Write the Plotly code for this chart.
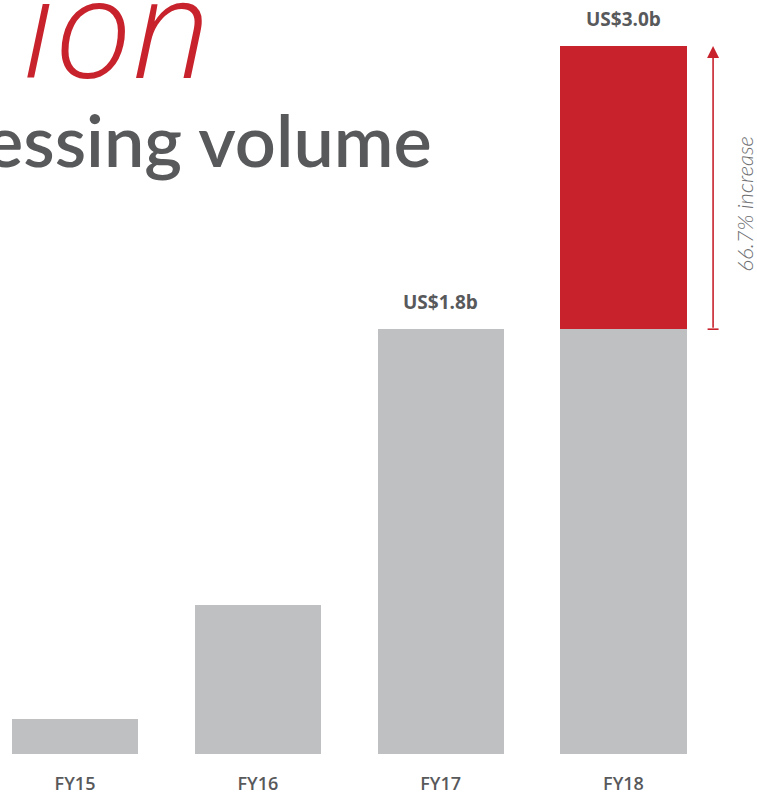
import plotly.graph_objects as go

categories = ["FY15", "FY16", "FY17", "FY18"]
base_values = [0.15, 0.63, 1.8, 1.8]       # US$ billions (grey part)
increase_values = [0, 0, 0, 1.2]           # FY18 growth over FY17 (red part)
value_labels = ["", "", "US$1.8b", "US$3.0b"]

GREY = "#bfc0c2"
RED = "#c8232d"
TEXT = "#58595b"

totals = [b + i for b, i in zip(base_values, increase_values)]
pct = (totals[3] - totals[2]) / totals[2] * 100

fig = go.Figure()
fig.add_trace(go.Bar(x=list(range(4)), y=base_values, marker_color=GREY,
                     marker_line_width=0, width=0.69, hoverinfo="skip"))
fig.add_trace(go.Bar(x=list(range(4)), y=increase_values, base=base_values,
                     marker_color=RED, marker_line_width=0, width=0.69, hoverinfo="skip"))

for i, lab in enumerate(value_labels):
    if lab:
        fig.add_annotation(x=i, y=totals[i], xref="x", yref="y", text=lab, showarrow=False,
                           yanchor="bottom", yshift=12,
                           font=dict(family="Open Sans", size=19, color=TEXT, weight=700))

arrow_x = 3.49
fig.add_annotation(x=arrow_x, y=totals[3], ax=arrow_x, ay=totals[2], xref="x", yref="y",
                   axref="x", ayref="y", text="", showarrow=True, arrowhead=2,
                   arrowsize=1.5, arrowwidth=1.6, arrowcolor=RED)
fig.add_annotation(x=arrow_x + 0.17, y=(totals[2] + totals[3]) / 2, xref="x", yref="y",
                   text=f"{pct:.1f}% increase", textangle=-90, showarrow=False, yshift=-16,
                   font=dict(family="Lato", size=22, color="#6d6e70", style="italic", weight=300))
fig.add_shape(type="line", xref="x", yref="y", x0=arrow_x - 0.03, x1=arrow_x + 0.03,
              y0=totals[2], y1=totals[2], line=dict(color=RED, width=1.6))

# title fragments (cropped at the edge, as in the reference)
fig.add_annotation(x=212 / 757, y=1 + 42 / 754 + 0.04, xref="paper", yref="paper",
                   text="ion", showarrow=False, xanchor="right", yanchor="top",
                   font=dict(family="Open Sans", size=138, color=RED, style="italic", weight=300))
fig.add_annotation(x=434 / 757, y=1 - 94 / 754, xref="paper", yref="paper",
                   text="essing volume", showarrow=False, xanchor="right", yanchor="top",
                   font=dict(family="Lato", size=72, color=TEXT, weight=600))

fig.update_layout(
    width=757, height=796, margin=dict(l=0, r=0, t=0, b=42),
    paper_bgcolor="white", plot_bgcolor="white",
    barmode="stack", showlegend=False, bargap=0,
    xaxis=dict(range=[-75 / 182.83, (757 - 75) / 182.83], tickmode="array",
               tickvals=list(range(4)), ticktext=categories, showgrid=False,
               zeroline=False, showline=False, ticks="", ticklabelstandoff=17,
               tickfont=dict(family="Open Sans", size=18, color=TEXT, weight=600)),
    yaxis=dict(range=[0, 754 / 236], visible=False, showgrid=False, zeroline=False),
)

fig.write_html("out.html")
